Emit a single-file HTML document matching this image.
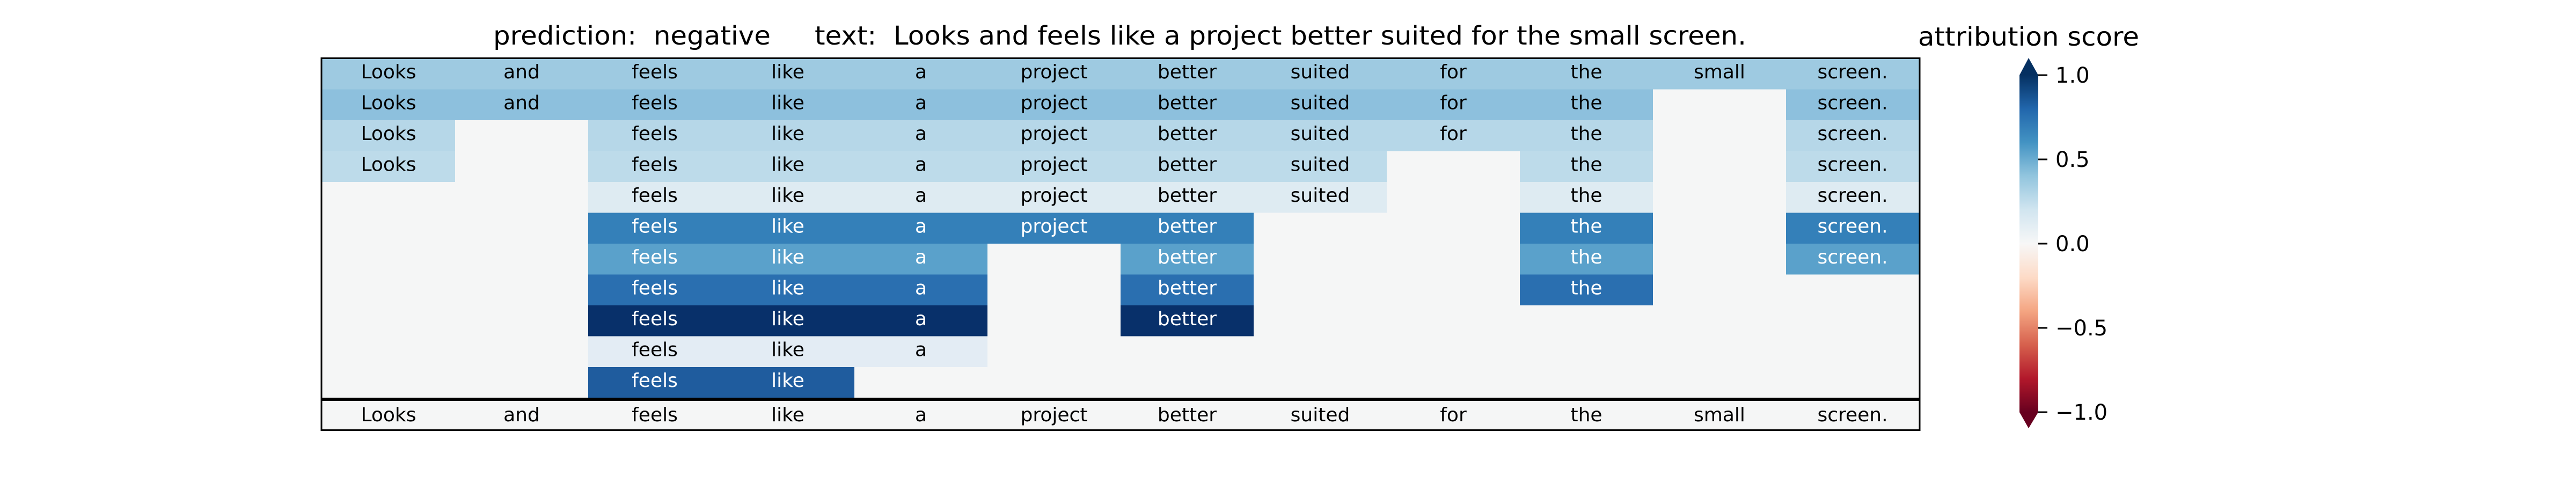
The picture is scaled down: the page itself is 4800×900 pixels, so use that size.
<!DOCTYPE html>
<html><head><meta charset="utf-8"><style>
html,body{margin:0;padding:0;background:#fff;}
svg{display:block;}
text{font-family:"DejaVu Sans","Liberation Sans",sans-serif;}
</style></head><body>
<svg xmlns="http://www.w3.org/2000/svg" width="4800" height="900" viewBox="0 0 4800 900">
<defs>
<linearGradient id="rdbu" x1="0" y1="1" x2="0" y2="0">
<stop offset="0" stop-color="#67001f"/><stop offset="0.1" stop-color="#b2182b"/>
<stop offset="0.2" stop-color="#d6604d"/><stop offset="0.3" stop-color="#f4a582"/>
<stop offset="0.4" stop-color="#fddbc7"/><stop offset="0.5" stop-color="#f7f7f7"/>
<stop offset="0.6" stop-color="#d1e5f0"/><stop offset="0.7" stop-color="#92c5de"/>
<stop offset="0.8" stop-color="#4393c3"/><stop offset="0.9" stop-color="#2166ac"/>
<stop offset="1" stop-color="#053061"/>
</linearGradient>
</defs>
<text x="919" y="83" font-size="48" textLength="517" lengthAdjust="spacingAndGlyphs" xml:space="preserve">prediction:  negative</text>
<text x="1518" y="83" font-size="48" textLength="1736" lengthAdjust="spacingAndGlyphs" xml:space="preserve">text:  Looks and feels like a project better suited for the small screen.</text>
<text x="3574" y="85" font-size="48" textLength="412" lengthAdjust="spacingAndGlyphs">attribution score</text>
<rect x="600" y="109" width="2976" height="693" fill="#f5f6f6"/>
<g id="cells"></g>
<rect x="599" y="108.5" width="2978" height="693" fill="none" stroke="#000" stroke-width="3"/>
<rect x="599" y="741" width="2978" height="6" fill="#000"/>
<polygon points="3763,140 3780,108 3798,140" fill="#053061"/>
<polygon points="3763,768 3780,798 3798,768" fill="#67001f"/>
<rect x="3763" y="139.5" width="35" height="629" fill="url(#rdbu)"/>
<g stroke="#000" stroke-width="3">
<line x1="3798" y1="140" x2="3815" y2="140"/><line x1="3798" y1="297" x2="3815" y2="297"/>
<line x1="3798" y1="454" x2="3815" y2="454"/><line x1="3798" y1="611" x2="3815" y2="611"/>
<line x1="3798" y1="768" x2="3815" y2="768"/>
</g>
<g font-size="40">
<text x="3830" y="154">1.0</text><text x="3830" y="311">0.5</text>
<text x="3830" y="468">0.0</text><text x="3830" y="625">−0.5</text>
<text x="3830" y="782">−1.0</text>
</g>
</svg>
<script>
(function(){
var words=["Looks","and","feels","like","a","project","better","suited","for","the","small","screen."];
var rows=[
["#9ecae1","#000",[0,1,2,3,4,5,6,7,8,9,10,11]],
["#8dc0dd","#000",[0,1,2,3,4,5,6,7,8,9,11]],
["#b6d7e8","#000",[0,2,3,4,5,6,7,8,9,11]],
["#bddbea","#000",[0,2,3,4,5,6,7,9,11]],
["#deebf2","#000",[2,3,4,5,6,7,9,11]],
["#3480b9","#fff",[2,3,4,5,6,9,11]],
["#5aa1cb","#fff",[2,3,4,6,9,11]],
["#2a6fb0","#fff",[2,3,4,6,9]],
["#08306a","#fff",[2,3,4,6]],
["#e3ecf4","#000",[2,3,4]],
["#1f5c9e","#fff",[2,3]]
];
var ns="http://www.w3.org/2000/svg",g=document.getElementById("cells");
var x0=600,w=248,y0=109,h=57.5;
function add(tag,attrs,txt){var e=document.createElementNS(ns,tag);for(var k in attrs)e.setAttribute(k,attrs[k]);if(txt)e.textContent=txt;g.appendChild(e);}
rows.forEach(function(r,i){
 r[2].forEach(function(c){
  add("rect",{x:x0+c*w,y:y0+i*h,width:w,height:h,fill:r[0]});
  add("text",{x:x0+c*w+w/2,y:y0+i*h+37,"font-size":36,"text-anchor":"middle",fill:r[1]},words[c]);
 });
});
words.forEach(function(wd,c){
 add("text",{x:x0+c*w+w/2,y:785,"font-size":36,"text-anchor":"middle",fill:"#000"},wd);
});
})();
</script>
</body></html>
